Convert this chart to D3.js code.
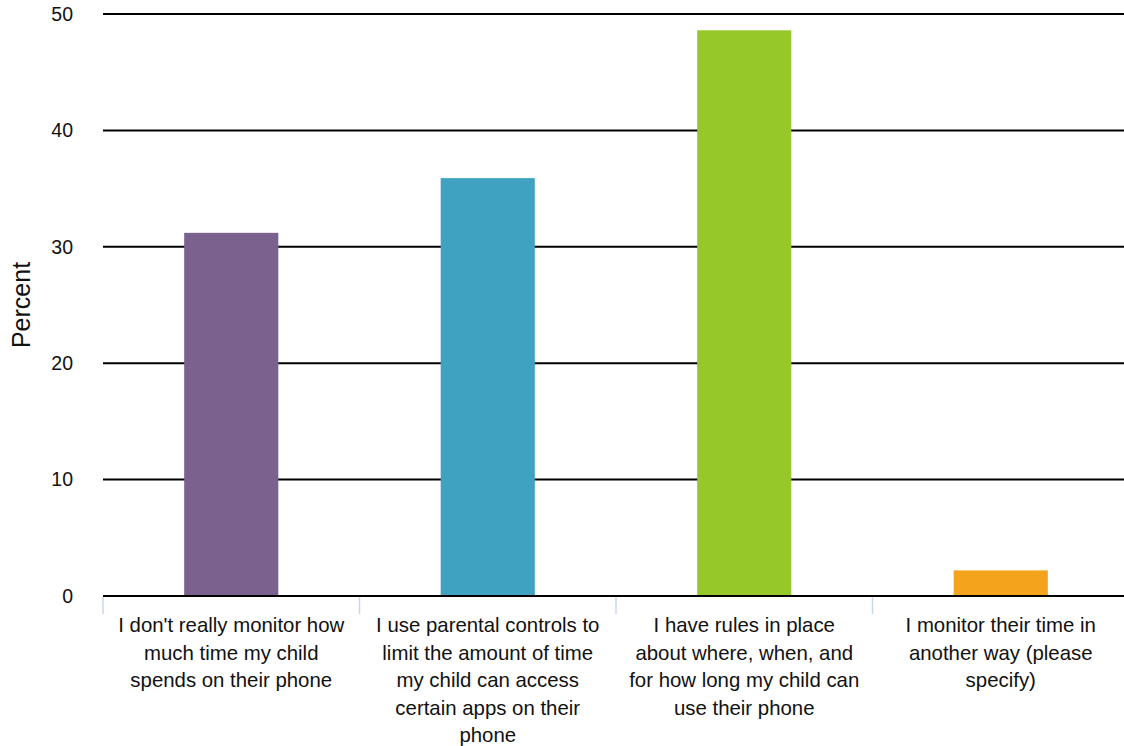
<!DOCTYPE html>
<html>
<head>
<meta charset="utf-8">
<script src="https://cdn.jsdelivr.net/npm/d3@7"></script>
<style>
  html, body { margin: 0; padding: 0; background: #fff; }
  svg { display: block; font-family: "Liberation Sans", Arial, Helvetica, sans-serif; }
</style>
</head>
<body>
<svg id="chart" width="1124" height="746"></svg>
<script>
const categories = [
  "I don't really monitor how\nmuch time my child\nspends on their phone",
  "I use parental controls to\nlimit the amount of time\nmy child can access\ncertain apps on their\nphone",
  "I have rules in place\nabout where, when, and\nfor how long my child can\nuse their phone",
  "I monitor their time in\nanother way (please\nspecify)"
];
const values = [31.2, 35.9, 48.6, 2.2];
const colors = ["#7b618e", "#3fa2c1", "#95c828", "#f4a41c"];
const yTicks = [0, 10, 20, 30, 40, 50];
const yTitle = "Percent";

(function () {
const svg = d3.select("#chart");
const pLeft = 103, pRight = 1129, pTop = 14, pBottom = 596;

const x = d3.scaleBand().domain(categories).range([pLeft, pRight])
  .paddingInner(0.633).paddingOuter(0.3165);
const xBand = d3.scaleBand().domain(categories).range([pLeft, pRight]).padding(0);
const y = d3.scaleLinear().domain([0, 50]).range([pBottom, pTop]);

// gridlines
svg.append("g").selectAll("line").data(yTicks).join("line")
  .attr("x1", pLeft).attr("x2", 1124)
  .attr("y1", d => y(d)).attr("y2", d => y(d))
  .attr("stroke", "#000").attr("stroke-width", 2);

// y tick labels
svg.append("g").selectAll("text").data(yTicks).join("text")
  .attr("x", 73).attr("y", d => y(d)).attr("dy", "0.35em")
  .attr("text-anchor", "end").attr("font-size", 19.5).attr("fill", "#111")
  .text(d => d);

// y title
svg.append("text")
  .attr("transform", `translate(30,${(pTop + pBottom) / 2}) rotate(-90)`)
  .attr("text-anchor", "middle").attr("font-size", 25).attr("fill", "#111")
  .text(yTitle);

// bars
svg.append("g").selectAll("rect").data(values).join("rect")
  .attr("x", (d, i) => x(categories[i]))
  .attr("width", x.bandwidth())
  .attr("y", d => y(d))
  .attr("height", d => y(0) - y(d))
  .attr("fill", (d, i) => colors[i]);

// zero line on top
svg.append("line")
  .attr("x1", pLeft).attr("x2", 1124).attr("y1", y(0)).attr("y2", y(0))
  .attr("stroke", "#000").attr("stroke-width", 2);

// category boundary ticks
const bounds = categories.map(c => xBand(c)).concat([pRight]);
svg.append("g").selectAll("line").data(bounds).join("line")
  .attr("x1", d => d).attr("x2", d => d)
  .attr("y1", pBottom + 1).attr("y2", 614)
  .attr("stroke", "#cdd7ec").attr("stroke-width", 1.5);

// category labels
const lab = svg.append("g").selectAll("text").data(categories).join("text")
  .attr("x", d => xBand(d) + xBand.bandwidth() / 2)
  .attr("y", 632)
  .attr("text-anchor", "middle").attr("font-size", 20.4).attr("fill", "#111");
lab.each(function(d) {
  const t = d3.select(this);
  const cx = xBand(d) + xBand.bandwidth() / 2;
  d.split("\n").forEach((line, i) => {
    t.append("tspan").attr("x", cx).attr("dy", i === 0 ? 0 : 27.5).text(line);
  });
});
})();
</script>
</body>
</html>
